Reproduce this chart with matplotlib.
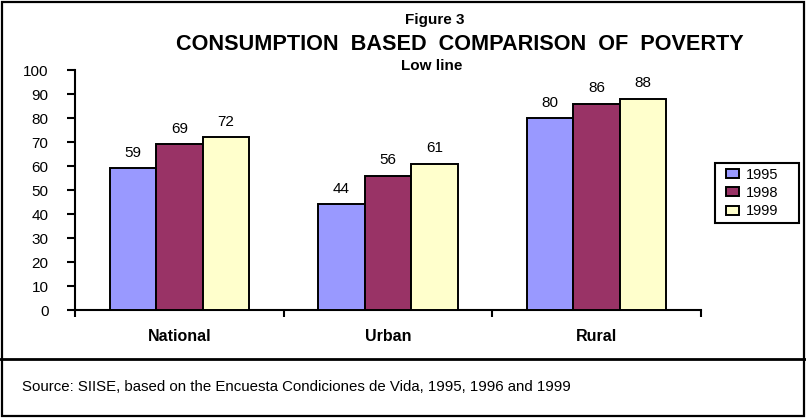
import numpy as np
import matplotlib
matplotlib.use("Agg")
import matplotlib.pyplot as plt
from matplotlib.patches import Rectangle
from matplotlib.lines import Line2D

plt.rcParams['font.family'] = ['Liberation Sans', 'DejaVu Sans']

# data
categories = ['National', 'Urban', 'Rural']
years = ['1995', '1998', '1999']
values = {
    '1995': [59, 44, 80],
    '1998': [69, 56, 86],
    '1999': [72, 61, 88],
}
colors = ['#9999FF', '#993366', '#FFFFCC']

W, H = 806, 418
fig = plt.figure(figsize=(W / 100, H / 100), dpi=100)

# axes box in pixels: x 75..701, y 70..310
ax = fig.add_axes([75 / W, 1 - 310 / H, (701 - 75) / W, (310 - 70) / H])

x = np.arange(len(categories))
bw = 0.2226
for i, yr in enumerate(years):
    pos = x + (i - 1) * bw
    bars = ax.bar(pos, values[yr], width=bw, color=colors[i],
                  edgecolor='black', linewidth=1.4, label=yr, zorder=3)
    for b, v in zip(bars, values[yr]):
        ax.annotate(str(v), (b.get_x() + b.get_width() / 2, v),
                    xytext=(0, 6), textcoords='offset points',
                    ha='center', va='bottom', fontsize=11)

ax.set_xlim(-0.5, len(categories) - 0.5)
ax.set_ylim(0, 100)
ax.set_yticks(np.arange(0, 101, 10))
ax.tick_params(axis='y', length=6, width=1.5, pad=13, labelsize=11)

# ticks at category boundaries, labels at centers
ax.set_xticks(np.arange(-0.5, len(categories), 1.0))
ax.set_xticklabels([])
ax.set_xticks(x, minor=True)
ax.set_xticklabels(categories, minor=True, fontsize=11.5, fontweight='bold')
ax.tick_params(axis='x', which='major', length=5, width=1.5)
ax.tick_params(axis='x', which='minor', length=0, pad=14)

for s in ['top', 'right']:
    ax.spines[s].set_visible(False)
for s in ['left', 'bottom']:
    ax.spines[s].set_linewidth(1.5)

# legend without its own frame; box drawn separately to match the wide frame
leg = ax.legend(loc='center left', bbox_to_anchor=(726 / W, 1 - 193 / H),
                bbox_transform=fig.transFigure, fontsize=10.5, frameon=False,
                handlelength=0.9, handleheight=0.6, handletextpad=0.45,
                labelspacing=0.3, borderpad=0, borderaxespad=0)
fig.patches.append(Rectangle((715 / W, 1 - 223 / H), 84 / W, 60 / H,
                             transform=fig.transFigure, fill=False,
                             edgecolor='black', linewidth=1.5))

# titles
fig.text(435 / W, 1 - 20 / H, 'Figure 3', ha='center', va='center',
         fontsize=11, fontweight='bold')
fig.text(460 / W, 1 - 45 / H, 'CONSUMPTION  BASED  COMPARISON  OF  POVERTY',
         ha='center', va='center', fontsize=15.6, fontweight='bold')
fig.text(432 / W, 1 - 66 / H, 'Low line', ha='center', va='center',
         fontsize=11, fontweight='bold')

# source note
fig.text(22 / W, 1 - 387 / H,
         'Source: SIISE, based on the Encuesta Condiciones de Vida, 1995, 1996 and 1999',
         ha='left', va='center', fontsize=10.8)

# frame and separator
fig.patches.append(Rectangle((2 / W, 2 / H), (W - 4) / W, (H - 4) / H,
                             transform=fig.transFigure, fill=False,
                             edgecolor='black', linewidth=1.6))
fig.lines.append(Line2D([0, 1], [1 - 359 / H, 1 - 359 / H],
                        transform=fig.transFigure, color='black', linewidth=2))

fig.savefig('out.png', dpi=100)
